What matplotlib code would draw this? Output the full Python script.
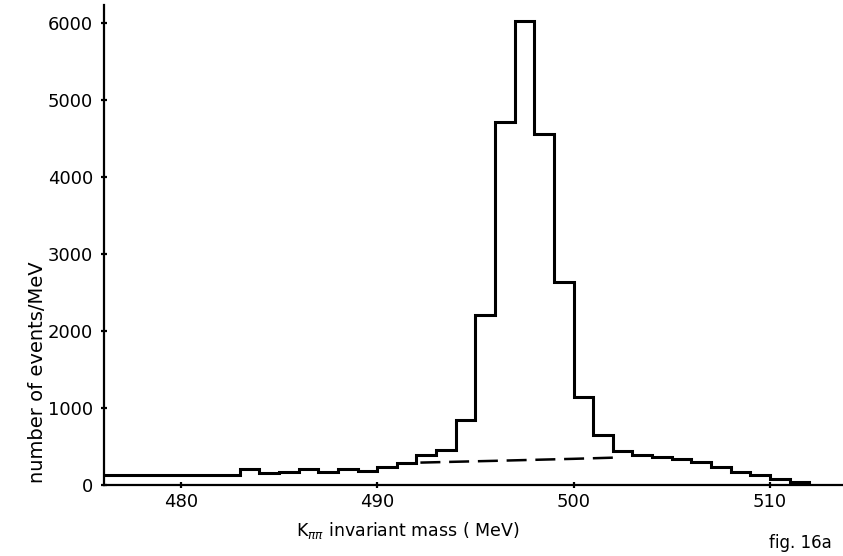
import numpy as np
import matplotlib.pyplot as plt

# K_pipi invariant mass histogram, 1 MeV bins
bin_edges = np.arange(476, 513, 1)
counts = [135, 135, 135, 135, 135, 135, 135,
          211, 155, 176, 211, 168, 207, 189,
          241, 296, 392, 462, 850, 2212, 4715, 6020, 4555, 2644,
          1144, 655, 452, 390, 371, 337, 306, 241, 176, 133, 78, 47]

# background estimate (dashed)
bg_mass = [492.2, 494, 496, 498, 500, 502.4]
bg_counts = [295, 306, 318, 331, 344, 362]

x_ticks = [480, 490, 500, 510]
y_ticks = [0, 1000, 2000, 3000, 4000, 5000, 6000]

plt.rcParams['font.family'] = ['DejaVu Sans']

fig = plt.figure(figsize=(8.43, 5.56), dpi=100)
ax = fig.add_axes([0.1234, 0.1271, 0.8766, 0.8639])

ax.stairs(counts, bin_edges, baseline=0, color='black', linewidth=2.2)
ax.plot(bg_mass, bg_counts, color='black', linewidth=1.8, dashes=(8, 3.5))

ax.set_xlim(476.09, 513.72)
ax.set_ylim(0, 6233)
ax.set_xticks(x_ticks)
ax.set_yticks(y_ticks)

for side in ['top', 'right']:
    ax.spines[side].set_visible(False)
for side in ['left', 'bottom']:
    ax.spines[side].set_linewidth(1.6)

ax.tick_params(axis='both', direction='inout', length=5, width=1.6,
               labelsize=13)
ax.tick_params(axis='y', pad=5.5)
ax.tick_params(axis='x', pad=3)

fig.text(0.044, 0.331, 'number of events/MeV', rotation=90,
         ha='center', va='center', fontsize=14)
fig.text(0.484, 0.045, r'K$_{\pi\pi}$ invariant mass ( MeV)',
         ha='center', va='center', fontsize=12.5)
fig.text(0.949, 0.023, 'fig. 16a', ha='center', va='center', fontsize=12)

fig.savefig('out.png', dpi=100)
